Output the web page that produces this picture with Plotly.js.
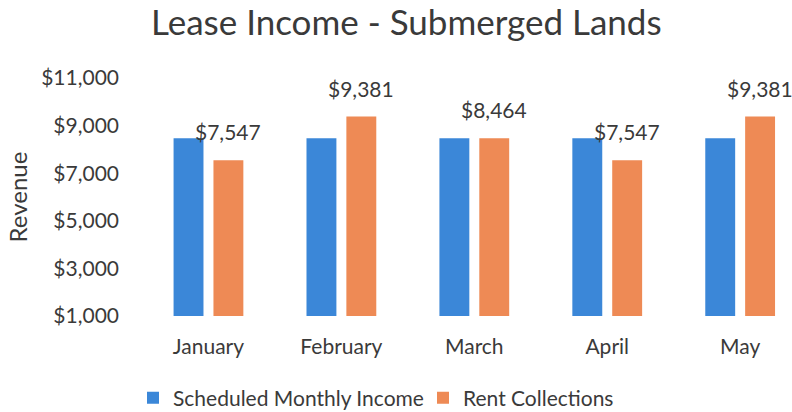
<!DOCTYPE html>
<html>
<head>
<meta charset="utf-8">
<script src="https://cdn.plot.ly/plotly-3.0.1.min.js"></script>
<style>html,body{margin:0;padding:0;background:#fff;}#chart{width:792px;height:412px;}</style>
</head>
<body>
<div id="chart"></div>
<script>
const months = ["January", "February", "March", "April", "May"];
const scheduled = [8464, 8464, 8464, 8464, 8464];
const collections = [7547, 9381, 8464, 7547, 9381];
const collectionLabels = ["$7,547", "$9,381", "$8,464", "$7,547", "$9,381"];
const yTickVals = [1000, 3000, 5000, 7000, 9000, 11000];
const yTickText = ["$1,000", "$3,000", "$5,000", "$7,000", "$9,000", "$11,000"];

const FONT = "Lato, 'Open Sans', sans-serif";
const TXT = "#3a3a3a";

const traces = [
  {
    type: "bar", name: "Scheduled Monthly Income", x: months, y: scheduled,
    marker: {color: "#3b87d8"}, hoverinfo: "none"
  },
  {
    type: "bar", name: "Rent Collections", x: months, y: collections,
    marker: {color: "#ee8a55"}, hoverinfo: "none"
  }
];

const labelAnnotations = months.map((m, i) => ({
  x: m, y: collections[i], xref: "x", yref: "y",
  text: collectionLabels[i], showarrow: false,
  xanchor: "center", yanchor: "bottom", xshift: 20, yshift: 14,
  font: {family: FONT, size: 21, color: TXT}
}));

const layout = {
  width: 792, height: 412,
  margin: {l: 142, r: 0, t: 78, b: 96},
  paper_bgcolor: "#fff", plot_bgcolor: "#fff",
  font: {family: FONT, color: TXT, size: 21},
  title: {text: "Lease Income - Submerged Lands", font: {family: FONT, size: 35, color: TXT},
          x: 0.513, xref: "container", xanchor: "center", y: 0.945, yref: "container", yanchor: "middle"},
  barmode: "group", bargap: 0.4, bargroupgap: 0.25,
  xaxis: {range: [-0.5, 4.39], showgrid: false, zeroline: false, showline: false,
          ticks: "", ticklabelstandoff: 16, tickfont: {size: 21}},
  yaxis: {range: [1000, 11000], tickvals: yTickVals, ticktext: yTickText,
          showgrid: false, zeroline: false, showline: false, ticks: "",
          ticklabelstandoff: 22, tickfont: {size: 21},
          title: {text: "Revenue", font: {size: 24}, standoff: 6}},
  annotations: labelAnnotations,
  showlegend: true,
  legend: {orientation: "h", x: 133 / 792, xref: "container", xanchor: "left",
           y: 14 / 412, yref: "container", yanchor: "middle",
           font: {size: 21}, itemwidth: 30, traceorder: "normal", entrywidth: 245}
};

Plotly.newPlot("chart", traces, layout, {displayModeBar: false, staticPlot: true});
</script>
</body>
</html>
